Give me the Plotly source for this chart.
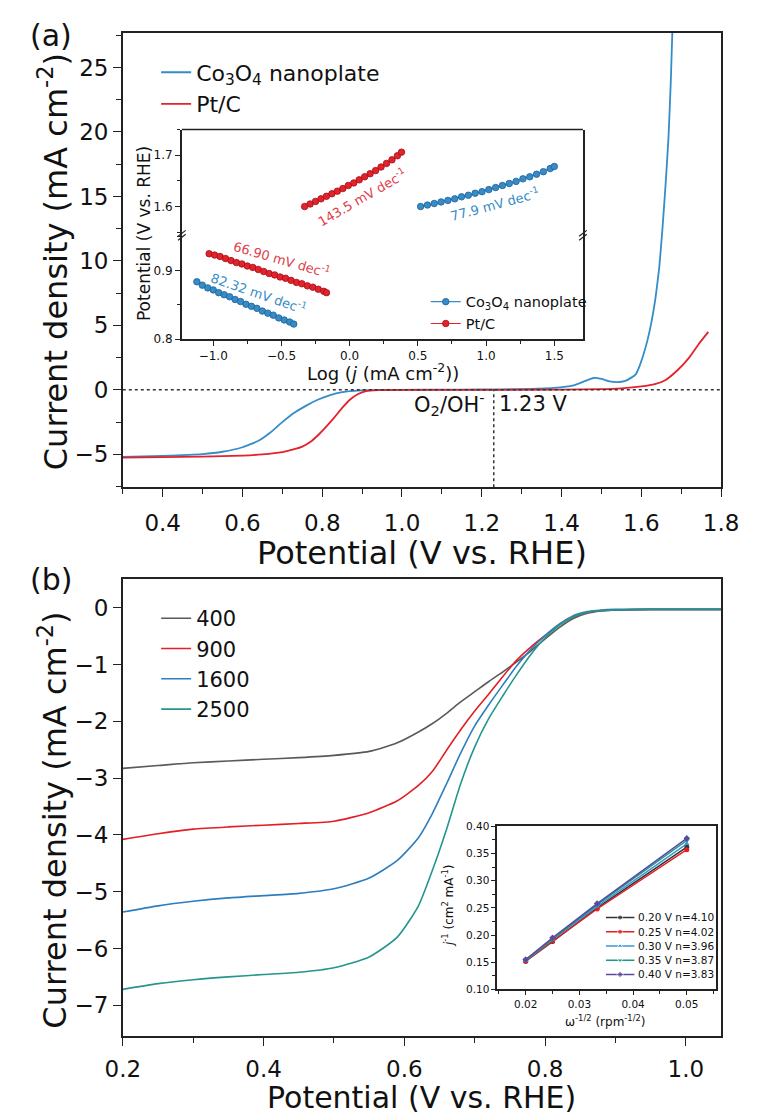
import plotly.graph_objects as go

W, H = 761, 1120
def px(v): return v / W
def py(v): return 1 - v / H

FONT = "DejaVu Sans"
BLUE = "#348cc8"
RED = "#e3222b"
AXC = "#222222"

# ---------------- Panel (a): LSV ----------------
a_co_x = [0.30, 0.40, 0.50, 0.55, 0.60, 0.64, 0.67, 0.70, 0.73, 0.76, 0.79, 0.82, 0.85, 0.88, 0.92,
          1.00, 1.10, 1.20, 1.30, 1.38, 1.43, 1.46, 1.48, 1.50, 1.52, 1.54, 1.56, 1.575, 1.586, 1.595,
          1.605, 1.615, 1.625, 1.635, 1.645, 1.653, 1.661, 1.668, 1.674, 1.68]
a_co_y = [-5.2, -5.12, -4.98, -4.8, -4.45, -3.95, -3.3, -2.5, -1.78, -1.22, -0.75, -0.4, -0.18, -0.08, -0.02,
          0.0, 0.02, 0.03, 0.06, 0.15, 0.35, 0.7, 0.92, 0.85, 0.66, 0.6, 0.7, 0.95, 1.2, 1.8,
          2.7, 3.8, 5.2, 7.0, 9.5, 12.5, 16.0, 19.5, 24.0, 30.0]
a_pt_x = [0.30, 0.40, 0.50, 0.60, 0.65, 0.70, 0.73, 0.75, 0.77, 0.79, 0.81, 0.83, 0.85, 0.87, 0.89,
          0.91, 0.94, 1.00, 1.20, 1.40, 1.50, 1.55, 1.60, 1.634, 1.66, 1.69, 1.72, 1.745, 1.768]
a_pt_y = [-5.25, -5.22, -5.18, -5.1, -5.0, -4.82, -4.6, -4.4, -4.05, -3.5, -2.85, -2.15, -1.4, -0.75, -0.32,
          -0.1, -0.02, 0.0, 0.0, 0.02, 0.05, 0.12, 0.27, 0.45, 0.75, 1.5, 2.5, 3.6, 4.5]
E_O2 = 1.23
A_XR = [0.3, 1.8]
A_YR = [-7.56, 27.7]

# inset (a): Tafel plots (broken y axis)
t_pt_lo_x = [-1.03, -0.99, -0.95, -0.91, -0.87, -0.83, -0.79, -0.75, -0.71, -0.67, -0.63, -0.59, -0.55,
             -0.51, -0.47, -0.43, -0.39, -0.35, -0.31, -0.27, -0.23, -0.19, -0.17]
t_pt_lo_y = [0.925, 0.923, 0.921, 0.918, 0.915, 0.912, 0.910, 0.907, 0.905, 0.902, 0.899, 0.896, 0.894,
             0.891, 0.889, 0.886, 0.883, 0.881, 0.878, 0.876, 0.873, 0.870, 0.868]
t_co_lo_x = [-1.12, -1.08, -1.04, -1.00, -0.96, -0.92, -0.88, -0.84, -0.80, -0.76, -0.72, -0.68, -0.64,
             -0.60, -0.56, -0.52, -0.48, -0.44, -0.41]
t_co_lo_y = [0.884, 0.879, 0.875, 0.872, 0.868, 0.865, 0.862, 0.858, 0.855, 0.851, 0.848, 0.845, 0.841,
             0.838, 0.835, 0.831, 0.828, 0.825, 0.822]
t_pt_hi_x = [-0.33, -0.29, -0.25, -0.21, -0.17, -0.13, -0.09, -0.05, -0.01, 0.03, 0.07, 0.11, 0.15,
             0.19, 0.23, 0.27, 0.31, 0.35, 0.38]
t_pt_hi_y = [1.600, 1.605, 1.610, 1.615, 1.620, 1.625, 1.630, 1.635, 1.641, 1.646, 1.652, 1.658, 1.664,
             1.670, 1.677, 1.684, 1.691, 1.699, 1.706]
t_co_hi_x = [0.52, 0.57, 0.62, 0.67, 0.72, 0.77, 0.82, 0.87, 0.92, 0.97, 1.02, 1.07, 1.12, 1.17, 1.22,
             1.27, 1.32, 1.37, 1.42, 1.47, 1.50]
t_co_hi_y = [1.600, 1.603, 1.606, 1.609, 1.612, 1.615, 1.619, 1.622, 1.626, 1.629, 1.633, 1.637, 1.641,
             1.645, 1.649, 1.654, 1.658, 1.663, 1.668, 1.674, 1.678]
tafel_labels = ["143.5 mV dec<sup>-1</sup>", "77.9 mV dec<sup>-1</sup>",
                "66.90 mV dec<sup>-1</sup>", "82.32 mV dec<sup>-1</sup>"]

# ---------------- Panel (b): RDE ----------------
b_x = [0.20, 0.25, 0.30, 0.35, 0.40, 0.45, 0.50, 0.55, 0.59, 0.62, 0.64, 0.66, 0.68, 0.70, 0.72, 0.74,
       0.76, 0.78, 0.80, 0.82, 0.84, 0.86, 0.88, 0.90, 0.95, 1.00, 1.05]
b_400 = [-2.83, -2.78, -2.73, -2.70, -2.67, -2.64, -2.60, -2.53, -2.38, -2.19, -2.04, -1.86, -1.66, -1.48,
         -1.30, -1.13, -0.95, -0.76, -0.55, -0.35, -0.19, -0.10, -0.06, -0.04, -0.03, -0.03, -0.03]
b_900 = [-4.08, -3.98, -3.90, -3.86, -3.83, -3.80, -3.76, -3.61, -3.40, -3.13, -2.88, -2.51, -2.15, -1.82,
         -1.52, -1.21, -0.92, -0.69, -0.49, -0.30, -0.16, -0.08, -0.05, -0.04, -0.03, -0.03, -0.03]
b_1600 = [-5.36, -5.25, -5.17, -5.11, -5.07, -5.03, -4.95, -4.76, -4.45, -4.05, -3.62, -3.10, -2.56, -2.08,
          -1.71, -1.36, -1.02, -0.73, -0.49, -0.29, -0.14, -0.07, -0.04, -0.03, -0.03, -0.03, -0.03]
b_2500 = [-6.72, -6.62, -6.55, -6.50, -6.46, -6.42, -6.34, -6.15, -5.80, -5.25, -4.62, -3.90, -3.10, -2.45,
          -1.95, -1.55, -1.17, -0.82, -0.53, -0.31, -0.16, -0.08, -0.05, -0.04, -0.03, -0.03, -0.03]
b_names = ["400", "900", "1600", "2500"]
b_colors = ["#5a5a5a", "#e31e24", "#2d7ebf", "#24968c"]

# inset (b): K-L plots
kl_x = [0.020, 0.025, 0.0333, 0.050]
kl_y = {
    "0.20 V n=4.10": [0.152, 0.188, 0.250, 0.362],
    "0.25 V n=4.02": [0.152, 0.189, 0.248, 0.357],
    "0.30 V n=3.96": [0.153, 0.192, 0.253, 0.368],
    "0.35 V n=3.87": [0.154, 0.193, 0.256, 0.374],
    "0.40 V n=3.83": [0.155, 0.195, 0.258, 0.378],
}
kl_colors = ["#333333", "#e31e24", "#3b96d2", "#1a9a88", "#5a4a9f"]
kl_symbols = ["circle", "circle", "triangle-up", "triangle-down", "diamond"]

fig = go.Figure()

# panel a traces
fig.add_trace(go.Scatter(x=a_co_x, y=a_co_y, mode="lines", name="Co<sub>3</sub>O<sub>4</sub> nanoplate",
                         line=dict(color=BLUE, width=1.8, shape="spline", smoothing=0.4),
                         xaxis="x", yaxis="y", legend="legend"))
fig.add_trace(go.Scatter(x=a_pt_x, y=a_pt_y, mode="lines", name="Pt/C",
                         line=dict(color=RED, width=1.8, shape="spline", smoothing=0.4),
                         xaxis="x", yaxis="y", legend="legend"))

# inset a traces
co_mk = dict(color=BLUE, line=dict(width=0.8, color="#1f5f95"), size=6.5)
pt_mk = dict(color=RED, line=dict(width=0.8, color="#a01018"), size=6.5)
fig.add_trace(go.Scatter(x=t_co_lo_x, y=t_co_lo_y, mode="lines+markers", name="Co<sub>3</sub>O<sub>4</sub> nanoplate",
                         line=dict(color=BLUE, width=1.2), marker=co_mk,
                         xaxis="x3", yaxis="y3", legend="legend2"))
fig.add_trace(go.Scatter(x=t_pt_lo_x, y=t_pt_lo_y, mode="lines+markers", name="Pt/C",
                         line=dict(color=RED, width=1.2), marker=pt_mk,
                         xaxis="x3", yaxis="y3", legend="legend2"))
fig.add_trace(go.Scatter(x=t_co_hi_x, y=t_co_hi_y, mode="lines+markers", showlegend=False,
                         line=dict(color=BLUE, width=1.2), marker=co_mk, xaxis="x3", yaxis="y4"))
fig.add_trace(go.Scatter(x=t_pt_hi_x, y=t_pt_hi_y, mode="lines+markers", showlegend=False,
                         line=dict(color=RED, width=1.2), marker=pt_mk, xaxis="x3", yaxis="y4"))

# panel b traces
for nm, ys, c in zip(b_names, [b_400, b_900, b_1600, b_2500], b_colors):
    fig.add_trace(go.Scatter(x=b_x, y=ys, mode="lines", name=nm,
                             line=dict(color=c, width=1.6, shape="spline", smoothing=0.6),
                             xaxis="x2", yaxis="y2", legend="legend3"))

# inset b traces + compact legend (drawn on a hidden helper axis: 1 unit = 30 px)
kl_names = list(kl_y.keys())
for i, (nm, c, s) in enumerate(zip(kl_names, kl_colors, kl_symbols)):
    fig.add_trace(go.Scatter(x=kl_x, y=kl_y[nm], mode="lines+markers", name=nm, showlegend=False,
                             line=dict(color=c, width=1.5), marker=dict(color=c, symbol=s, size=5),
                             xaxis="x4", yaxis="y5"))
    fig.add_trace(go.Scatter(x=[0, 0.5, 1], y=[i, i, i], mode="lines+markers", showlegend=False,
                             hoverinfo="skip", line=dict(color=c, width=1.5),
                             marker=dict(color=c, symbol=s, size=[0, 5, 0]),
                             xaxis="x5", yaxis="y6"))

tf = lambda s: dict(family=FONT, size=s, color="#111111")

def axis(domain, rng, anchor, dtick, tick0, minor_dtick, fsize, ticklen=8, fmt=None, mirror=True, **kw):
    d = dict(domain=domain, range=rng, anchor=anchor, showline=True, linecolor=AXC, linewidth=1.5,
             mirror=mirror, ticks="outside", ticklen=ticklen, tickwidth=1.4, tickcolor=AXC,
             dtick=dtick, tick0=tick0, tickfont=tf(fsize), showgrid=False, zeroline=False)
    if minor_dtick:
        d["minor"] = dict(dtick=minor_dtick, ticks="outside", ticklen=max(3, ticklen - 3),
                          tickwidth=1.2, tickcolor=AXC, showgrid=False)
    if fmt:
        d["tickformat"] = fmt
    d.update(kw)
    return d

hidden = dict(showgrid=False, zeroline=False, showline=False, showticklabels=False, ticks="",
              fixedrange=True)

fig.update_layout(
    width=W, height=H, margin=dict(l=0, r=0, t=0, b=0),
    paper_bgcolor="white", plot_bgcolor="rgba(0,0,0,0)",
    font=dict(family=FONT, color="#111111"),
    xaxis=axis([px(110), px(738)], A_XR, "y", 0.2, 0.4, 0.1, 23, fmt=".1f", ticklabelstandoff=6),
    yaxis=axis([py(487), py(27)], A_YR, "x", 5, 0, 2.5, 23),
    xaxis2=axis([px(110), px(738)], [0.2, 1.05], "y2", 0.2, 0.2, 0.1, 23, fmt=".1f", ticklabelstandoff=4),
    yaxis2=axis([py(1042), py(580)], [-7.54, 0.5], "x2", 1, 0, None, 23),
    xaxis3=axis([px(172), px(593)], [-1.23, 1.71], "y3", 0.5, 0, 0.25, 12, ticklen=5, fmt=".1f", mirror=False),
    yaxis3=axis([py(337), py(232)], [0.8, 0.952], "x3", 0.1, 0.8, 0.05, 12, ticklen=5, fmt=".1f"),
    yaxis4=axis([py(232), py(125)], [1.544, 1.75], "x3", 0.1, 1.6, 0.05, 12, ticklen=5, fmt=".1f"),
    xaxis4=axis([px(503), px(733)], [0.0147, 0.0555], "y5", 0.01, 0.02, 0.005, 10.5, ticklen=4, fmt=".2f"),
    yaxis5=axis([py(995), py(830)], [0.10, 0.40], "x4", 0.05, 0.1, 0.025, 10.5, ticklen=4, fmt=".2f"),
    xaxis5=dict(domain=[px(617), px(737)], range=[0, 4], anchor="y6", **hidden),
    yaxis6=dict(domain=[py(987), py(915)], range=[4.5, -0.5], anchor="x5", **hidden),
    legend=dict(x=px(145), y=py(46), xanchor="left", yanchor="top", font=tf(22),
                bgcolor="rgba(0,0,0,0)", tracegroupgap=0),
    legend2=dict(x=px(428), y=py(283), xanchor="left", yanchor="top", font=tf(14.5),
                 bgcolor="rgba(0,0,0,0)", tracegroupgap=0),
    legend3=dict(x=px(145), y=py(599), xanchor="left", yanchor="top", font=tf(21),
                 bgcolor="rgba(0,0,0,0)", tracegroupgap=0),
)

shapes = [
    dict(type="line", xref="x", yref="y", x0=A_XR[0], x1=A_XR[1], y0=0, y1=0,
         line=dict(color="#333", width=1.5, dash="dot")),
    dict(type="line", xref="x", yref="y", x0=E_O2, x1=E_O2, y0=A_YR[0], y1=0,
         line=dict(color="#333", width=1.5, dash="dot")),
    dict(type="line", xref="paper", yref="paper", x0=px(172), x1=px(593), y0=py(125), y1=py(125),
         line=dict(color=AXC, width=1.5)),
]
for xb in (172, 593):
    for dy in (-2, 2):
        shapes.append(dict(type="line", xref="paper", yref="paper",
                           x0=px(xb - 4), x1=px(xb + 4), y0=py(232 + dy + 3), y1=py(232 + dy - 3),
                           line=dict(color=AXC, width=1.2)))
fig.update_layout(shapes=shapes)

ann = []
def A(text, x, y, size, xanchor="center", yanchor="middle", angle=0, color="#111111"):
    ann.append(dict(text=text, x=px(x), y=py(y), xref="paper", yref="paper", showarrow=False,
                    xanchor=xanchor, yanchor=yanchor, textangle=angle,
                    font=dict(family=FONT, size=size, color=color)))

A("(a)", 10, 30, 30, xanchor="left")
A("(b)", 10, 580, 30, xanchor="left")
A("Potential (V vs. RHE)", 424, 553, 32)
A("Potential (V vs. RHE)", 424, 1104, 30)
A("Current density (mA cm<sup>-2</sup>)", 37, 259, 32, angle=-90)
A("Current density (mA cm<sup>-2</sup>)", 37, 824, 32, angle=-90)
A("O<sub>2</sub>/OH<sup>-</sup>", 492, 403, 21, xanchor="right")
A("1.23 V", 503, 403, 21, xanchor="left")
# inset a
A("Potential (V vs. RHE)", 133, 230, 17, angle=-90)
A("Log (<i>j</i> (mA cm<sup>-2</sup>))", 383, 370, 18)
A(tafel_labels[0], 361, 193, 13, angle=-30, color="#e0404a")
A(tafel_labels[1], 500, 200, 13, angle=-15, color=BLUE)
A(tafel_labels[2], 277, 256, 13, angle=16, color="#e0404a")
A(tafel_labels[3], 253, 290, 13, angle=19, color=BLUE)
# inset b
A("ω<sup>-1/2</sup> (rpm<sup>-1/2</sup>)", 617, 1027, 12)
A("<i>j</i><sup>-1</sup> (cm<sup>2</sup> mA<sup>-1</sup>)", 452, 910, 12, angle=-90)
for i, nm in enumerate(kl_names):
    ann.append(dict(text=nm, x=1.07, y=i, xref="x5", yref="y6", showarrow=False, xanchor="left",
                    yanchor="middle", font=dict(family=FONT, size=10.5, color="#111111")))
fig.update_layout(annotations=ann)

fig.write_html("out.html")
